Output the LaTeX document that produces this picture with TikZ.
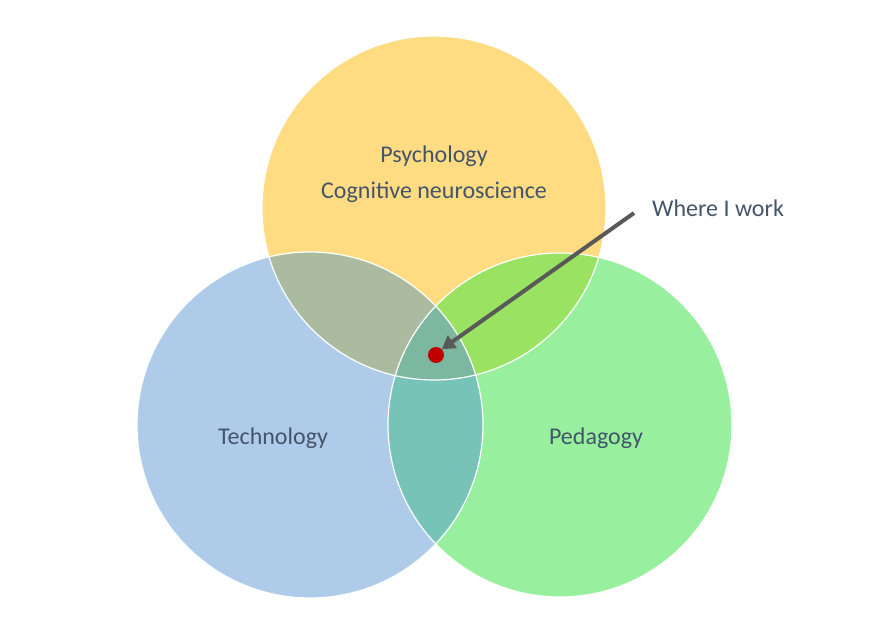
\documentclass[tikz,border=0pt]{standalone}
\usepackage{fontspec}
\setmainfont{Carlito}
\usetikzlibrary{arrows.meta}
\definecolor{psycol}{HTML}{FFDC82}
\definecolor{techcol}{HTML}{AECCE9}
\definecolor{pedcol}{HTML}{98F09E}
\definecolor{psytech}{HTML}{AABB9F}
\definecolor{psyped}{HTML}{99E262}
\definecolor{techped}{HTML}{78C3B8}
\definecolor{allthree}{HTML}{7CB8A0}
\definecolor{txtcol}{HTML}{44546A}
\definecolor{arrowcol}{HTML}{595959}
\definecolor{dotcol}{HTML}{C00000}

\begin{document}
\begin{tikzpicture}[x=1pt,y=1pt,
    txt/.style={text=txtcol,font=\fontsize{24}{28}\selectfont,inner sep=0pt},
    rim/.style={draw=white,line width=1.2pt}]
  \useasboundingbox (0,0) rectangle (882,634);

  % the three fields
  \coordinate (psy) at (434,426);
  \coordinate (tech) at (310,209);
  \coordinate (ped) at (560,209);
  \fill[psycol] (psy) circle (172);
  \fill[techcol] (tech) circle (173);
  \fill[pedcol] (ped) circle (172);

  % overlaps
  \begin{scope}
    \clip (psy) circle (172);
    \fill[psytech] (tech) circle (173);
    \fill[psyped] (ped) circle (172);
  \end{scope}
  \begin{scope}
    \clip (tech) circle (173);
    \fill[techped] (ped) circle (172);
    \clip (psy) circle (172);
    \fill[allthree] (ped) circle (172);
  \end{scope}

  \draw[rim] (psy) circle (172);
  \draw[rim] (tech) circle (173);
  \draw[rim] (ped) circle (172);

  % labels
  \node[txt] (psylabel) at (434,478) {Psychology};
  \node[txt] (neurolabel) at (434,442) {Cognitive neuroscience};
  \node[txt] (techlabel) at (273,196) {Technology};
  \node[txt] (pedlabel) at (596,196) {Pedagogy};
  \node[txt,anchor=west] (work) at (652,426) {Where I work};

  \node[circle,fill=dotcol,minimum size=16pt,inner sep=0pt] (dot) at (436,279) {};
  \coordinate (tail) at (634,421);
  \draw[arrowcol,line width=4pt,-{Triangle[width=15pt,length=13pt]}] (tail) -- (dot.north east);
\end{tikzpicture}
\end{document}
